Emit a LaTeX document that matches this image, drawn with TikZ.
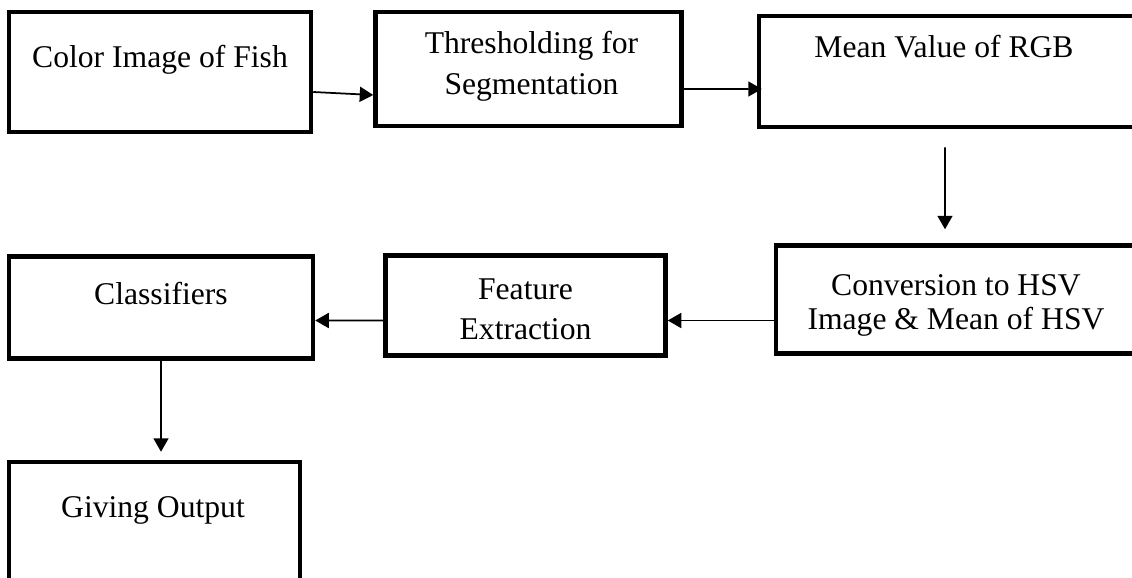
\documentclass[tikz,border=0pt]{standalone}
\usepackage{fontspec}
\setmainfont{Liberation Serif}
\usepackage{xcolor}
\usepackage{tikz}
\usetikzlibrary{arrows.meta, positioning, calc}
\tikzstyle{stage} = [rectangle, draw=black, line width=0.09cm, fill=white]
\tikzstyle{boxtext} = [inner sep=0pt, align=center, anchor=base, font=\fontsize{18pt}{23.3pt}\selectfont]
\tikzstyle{arrow} = [line width=1pt, -{Triangle[length=0.27cm, width=0.3cm]}]

\begin{document}
\begin{tikzpicture}
            \useasboundingbox (0,0) rectangle (22.64,-11.54);
            \clip (0,0) rectangle (22.64,-11.54);
            % Top row
            \node (fish) [stage, minimum width=6.04cm, minimum height=2.4cm] at (3.2,-1.44) {};
            \node (thresh) [stage, right=1.2cm of fish, yshift=0.06cm, minimum width=6.12cm, minimum height=2.28cm] {};
            \node (rgb) [stage, right=1.46cm of thresh, yshift=-0.05cm, minimum width=7.74cm, minimum height=2.22cm] {};
            
            % Middle row
            \node (hsv) [stage, below=2.28cm of rgb, xshift=0.17cm, minimum width=7.4cm, minimum height=2.16cm] {};
            \node (feat) [stage, left=2.12cm of hsv, yshift=-0.12cm, minimum width=5.6cm, minimum height=2cm] {};
            \node (cls) [stage, left=1.36cm of feat, yshift=-0.04cm, minimum width=6.08cm, minimum height=2.04cm] {};
            
            % Output
            \node (out) [stage, below=1.98cm of cls, xshift=-0.13cm, minimum width=5.82cm, minimum height=2.78cm] {};
            
            % Texts (base = last line)
            \node (fishtext) [boxtext] at ($(fish.center)+(0,0.1)$) {Color Image of Fish};
            \node (threshtext) [boxtext] at ($(thresh.center)+(0.06,-0.5)$) {Thresholding for\\Segmentation};
            \node (rgbtext) [boxtext] at ($(rgb.center)+(-0.17,0.29)$) {Mean Value of RGB};
            \node (hsvtext) [boxtext, font=\fontsize{18pt}{19.3pt}\selectfont] at ($(hsv.center)+(-0.1,-0.6)$) {Conversion to HSV\\Image \& Mean of HSV};
            \node (feattext) [boxtext, font=\fontsize{18pt}{22.8pt}\selectfont] at ($(feat.center)+(0,-0.68)$) {Feature\\Extraction};
            \node (clstext) [boxtext] at ($(cls.center)+(0,0.06)$) {Classifiers};
            \node (outtext) [boxtext] at ($(out.center)+(-0.03,0.29)$) {Giving Output};
            
            % Arrows
            \draw [arrow] ($(fish.east)+(0,-0.4)$) -- ($(thresh.west)+(0,-0.52)$);
            \draw [arrow] ($(thresh.east)+(0,-0.4)$) -- ($(rgb.west)+(0.1,-0.35)$);
            \draw [arrow] ($(rgb.south)+(-0.15,-0.36)$) -- ($(hsv.north)+(-0.32,0.28)$);
            \draw [arrow] ($(hsv.west)+(0,-0.42)$) -- ($(feat.east)+(0,-0.3)$);
            \draw [arrow] ($(feat.west)+(0,-0.3)$) -- ($(cls.east)+(0,-0.26)$);
            \draw [arrow] (cls.south) -- ($(out.north)+(0.13,0.16)$);
        \end{tikzpicture}
\end{document}
